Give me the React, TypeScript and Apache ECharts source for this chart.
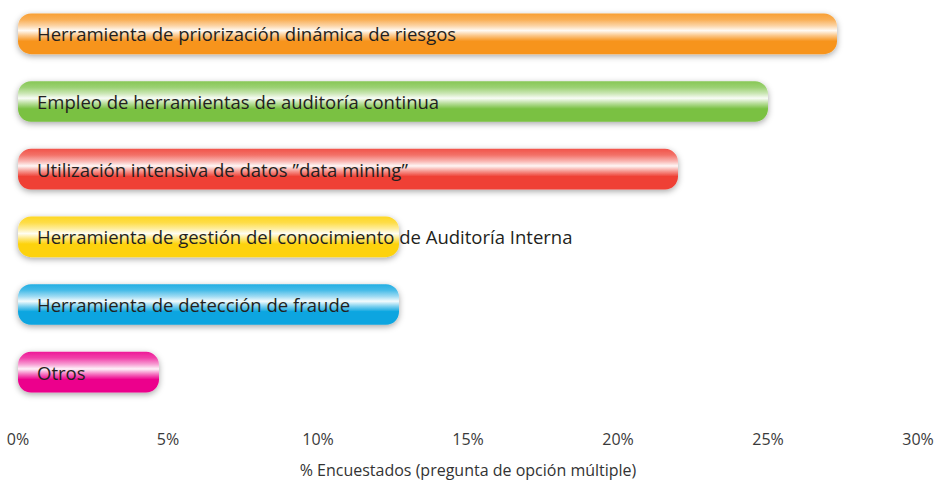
import React, { useEffect, useRef } from "react";
import * as echarts from "echarts";

const categories = [
  "Herramienta de priorización dinámica de riesgos",
  "Empleo de herramientas de auditoría continua",
  "Utilización intensiva de datos \u201ddata mining\u201d",
  "Herramienta de gestión del conocimiento de Auditoría Interna",
  "Herramienta de detección de fraude",
  "Otros",
];
const values = [27.3, 25.0, 22.0, 12.7, 12.7, 4.7];
const barColors = ["#F7941D", "#7AC143", "#EF4136", "#FDD20A", "#0AA5E0", "#EC008C"];
const tickLabels = ["0%", "5%", "10%", "15%", "20%", "25%", "30%"];
const axisTitle = "% Encuestados (pregunta de opción múltiple)";

function mix(hex: string, t: number): string {
  const n = parseInt(hex.slice(1), 16);
  const r = (n >> 16) & 255, g = (n >> 8) & 255, b = n & 255;
  const f = (c: number) => Math.round(c + (255 - c) * t);
  return `rgb(${f(r)},${f(g)},${f(b)})`;
}

function gloss(c: string) {
  return new echarts.graphic.LinearGradient(0, 0, 0, 1, [
    { offset: 0, color: mix(c, 0.1) },
    { offset: 0.15, color: mix(c, 0.25) },
    { offset: 0.3, color: mix(c, 0.6) },
    { offset: 0.42, color: mix(c, 0.95) },
    { offset: 0.55, color: mix(c, 0.45) },
    { offset: 0.68, color: c },
    { offset: 1, color: c },
  ]);
}

const FONT = "Liberation Sans Narrow, Open Sans, sans-serif";

export default function App() {
  const ref = useRef<HTMLDivElement>(null);
  useEffect(() => {
    if (!ref.current) return;
    const chart = echarts.init(ref.current, undefined, { renderer: "svg" });
    chart.setOption({
      animation: false,
      backgroundColor: "#ffffff",
      grid: { left: 18, right: 22, top: 0, height: 406, outerBoundsMode: "none" },
      xAxis: {
        type: "value",
        min: 0,
        max: 30,
        interval: 5,
        axisLine: { show: false },
        axisTick: { show: false },
        splitLine: { show: false },
        axisLabel: {
          margin: 25,
          fontFamily: FONT,
          fontSize: 16,
          color: "#3a3a3a",
          formatter: (v: number) => tickLabels[Math.round(v / 5)] ?? "",
        },
        name: axisTitle,
        nameLocation: "middle",
        nameGap: 56,
        nameTextStyle: {
          fontFamily: FONT,
          fontSize: 16,
          color: "#333",
        },
      },
      yAxis: {
        type: "category",
        data: categories,
        inverse: true,
        show: false,
      },
      series: [
        {
          type: "bar",
          barCategoryGap: "40%",
          data: values.map((v, i) => ({
            value: v,
            itemStyle: {
              color: gloss(barColors[i]),
              borderRadius: 13,
              shadowBlur: 6,
              shadowColor: "rgba(0,0,0,0.35)",
              shadowOffsetY: 2,
            },
          })),
          label: {
            show: true,
            position: "insideLeft",
            distance: 19,
            formatter: (p: any) => categories[p.dataIndex],
            fontFamily: FONT,
            fontSize: 18.5,
            color: "#231f20",
          },
        },
      ],
    });
    return () => chart.dispose();
  }, []);
  return (
    <div
      ref={ref}
      style={{ position: "fixed", left: 0, top: 0, width: 940, height: 484 }}
    />
  );
}
